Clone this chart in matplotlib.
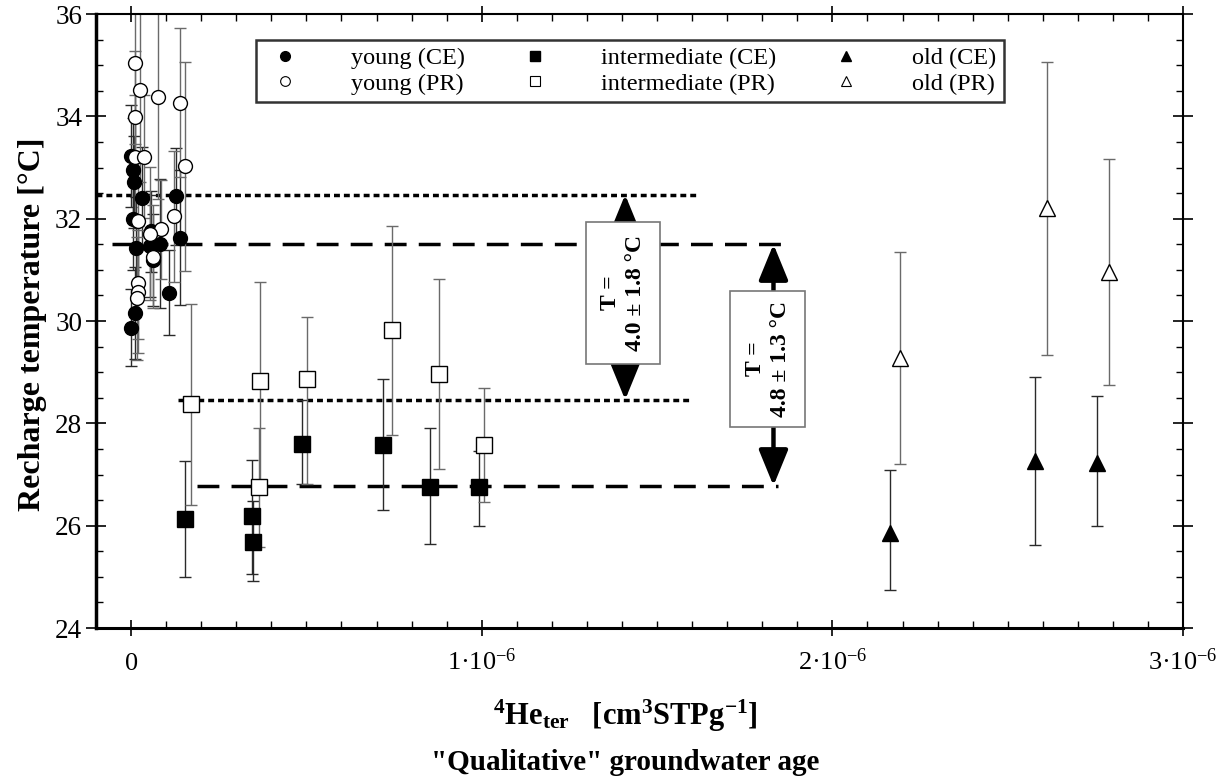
import matplotlib
matplotlib.use("Agg")
import matplotlib.pyplot as plt
from matplotlib.patches import Rectangle
from matplotlib.lines import Line2D
from matplotlib.ticker import MultipleLocator

plt.rcParams['font.family'] = ['Liberation Serif', 'DejaVu Serif']
plt.rcParams['mathtext.fontset'] = 'custom'
plt.rcParams['mathtext.rm'] = 'Liberation Serif'
plt.rcParams['mathtext.default'] = 'regular'

# ---------------- data ----------------
# young (CE)
young_ce_x = [0.001e-6, 0.004e-6, 0.008e-6, 0.031e-6, 0.129e-6, 0.004e-6, 0.058e-6, 0.054e-6,
              0.083e-6, 0.139e-6, 0.013e-6, 0.061e-6, 0.109e-6, 0.011e-6, 0.001e-6]
young_ce_t = [33.23, 32.96, 32.71, 32.41, 32.44, 31.99, 31.75, 31.47,
              31.51, 31.63, 31.42, 31.19, 30.55, 30.15, 29.87]
young_ce_err = [1.0, 1.0, 0.9, 1.0, 0.95, 1.0, 0.8, 1.0,
                1.26, 1.32, 1.0, 0.9, 0.83, 0.9, 0.75]
# young (PR)
young_pr_x = [0.011e-6, 0.025e-6, 0.078e-6, 0.140e-6, 0.012e-6, 0.011e-6, 0.037e-6, 0.154e-6,
              0.123e-6, 0.020e-6, 0.085e-6, 0.054e-6, 0.063e-6, 0.020e-6, 0.020e-6, 0.016e-6]
young_pr_t = [35.05, 34.51, 34.38, 34.27, 33.98, 33.21, 33.21, 33.02,
              32.05, 31.96, 31.79, 31.71, 31.26, 30.75, 30.57, 30.44]
young_pr_err = [1.6, 1.8, 2.0, 1.45, 1.3, 1.2, 1.2, 2.05,
                1.28, 1.2, 0.97, 1.3, 1.0, 1.1, 1.2, 1.2]
# intermediate (CE)
int_ce_x = [0.154e-6, 0.345e-6, 0.349e-6, 0.487e-6, 0.718e-6, 0.853e-6, 0.992e-6]
int_ce_t = [26.13, 26.18, 25.69, 27.60, 27.58, 26.76, 26.75]
int_ce_lo = [1.13, 1.12, 0.78, 0.78, 1.27, 1.12, 0.76]
int_ce_hi = [1.13, 1.10, 0.79, 0.86, 1.29, 1.15, 0.70]
# intermediate (PR)
int_pr_x = [0.171e-6, 0.368e-6, 0.366e-6, 0.503e-6, 0.744e-6, 0.877e-6, 1.007e-6]
int_pr_t = [28.38, 28.83, 26.75, 28.87, 29.82, 28.96, 27.58]
int_pr_lo = [1.98, 1.95, 1.16, 2.05, 2.05, 1.86, 1.11]
int_pr_hi = [1.95, 1.93, 1.15, 1.20, 2.04, 1.86, 1.12]
# old (CE)
old_ce_x = [2.163e-6, 2.578e-6, 2.755e-6]
old_ce_t = [25.86, 27.27, 27.23]
old_ce_lo = [1.12, 1.65, 1.24]
old_ce_hi = [1.23, 1.64, 1.30]
# old (PR)
old_pr_x = [2.192e-6, 2.613e-6, 2.789e-6]
old_pr_t = [29.27, 32.20, 30.96]
old_pr_err = [2.07, 2.87, 2.21]

# reference levels: (level, x_start, x_end)
dotted_levels = [(32.47, -0.1e-6, 1.61e-6), (28.46, 0.135e-6, 1.59e-6)]
dashed_levels = [(31.50, -0.055e-6, 1.855e-6), (26.78, 0.187e-6, 1.845e-6)]

# difference annotations
diff_labels = ['T =\n4.0 \u00b1 1.8 \u00b0C', 'T =\n4.8 \u00b1 1.3 \u00b0C']
diff_arrow_x = [1.409e-6, 1.832e-6]
diff_arrow_y = [(28.46, 32.47), (26.78, 31.50)]
diff_box_x = [(1.297e-6, 1.509e-6), (1.709e-6, 1.921e-6)]
diff_box_y = [(29.15, 31.94), (27.92, 30.59)]

x_ticks = [0, 1e-6, 2e-6, 3e-6]
x_ticklabels = ['0', '1\u00b710$^{-6}$', '2\u00b710$^{-6}$', '3\u00b710$^{-6}$']
y_ticks = [24, 26, 28, 30, 32, 34, 36]

# ---------------- figure ----------------
fig = plt.figure(figsize=(12.22, 7.78), dpi=100)
ax = fig.add_axes([0.0786, 0.1928, 0.8895, 0.7892])

eb_kw = dict(fmt='none', elinewidth=1.0, capsize=4, capthick=1.0, zorder=2)
dark = '#2a2a2a'
grey = '#6a6a6a'

ax.errorbar(young_ce_x, young_ce_t, yerr=young_ce_err, ecolor=dark, **eb_kw)
ax.errorbar(young_pr_x, young_pr_t, yerr=young_pr_err, ecolor=grey, **eb_kw)
ax.errorbar(int_ce_x, int_ce_t, yerr=[int_ce_lo, int_ce_hi], ecolor=dark, **eb_kw)
ax.errorbar(int_pr_x, int_pr_t, yerr=[int_pr_lo, int_pr_hi], ecolor=grey, **eb_kw)
ax.errorbar(old_ce_x, old_ce_t, yerr=[old_ce_lo, old_ce_hi], ecolor=dark, **eb_kw)
ax.errorbar(old_pr_x, old_pr_t, yerr=old_pr_err, ecolor=grey, **eb_kw)

ax.plot(young_ce_x, young_ce_t, 'o', ms=10, mfc='black', mec='black', mew=1, zorder=3)
ax.plot(young_pr_x, young_pr_t, 'o', ms=10, mfc='white', mec='black', mew=1, zorder=4)
ax.plot(int_ce_x, int_ce_t, 's', ms=11, mfc='black', mec='black', mew=1, zorder=3)
ax.plot(int_pr_x, int_pr_t, 's', ms=11, mfc='white', mec='black', mew=1, zorder=4)
ax.plot(old_ce_x, old_ce_t, '^', ms=11, mfc='black', mec='black', mew=1, zorder=3)
ax.plot(old_pr_x, old_pr_t, '^', ms=11, mfc='white', mec='black', mew=1, zorder=4)

for lvl, x0, x1 in dotted_levels:
    ax.plot([x0, x1], [lvl, lvl], color='black', lw=2.5, dashes=(1.7, 1.15), zorder=1.5)
for lvl, x0, x1 in dashed_levels:
    ax.plot([x0, x1], [lvl, lvl], color='black', lw=2.5, dashes=(6.3, 3.5), zorder=1.5)

for lab, ax_x, (ya, yb), (bx0, bx1), (by0, by1) in zip(diff_labels, diff_arrow_x, diff_arrow_y,
                                                        diff_box_x, diff_box_y):
    ax.annotate('', xy=(ax_x, yb), xytext=(ax_x, ya),
                arrowprops=dict(arrowstyle='<|-|>,head_length=1.1,head_width=0.45',
                                lw=3.2, color='black', shrinkA=0, shrinkB=0,
                                mutation_scale=20), zorder=5)
    ax.add_patch(Rectangle((bx0, by0), bx1 - bx0, by1 - by0, facecolor='white',
                           edgecolor='#777777', lw=1.2, zorder=6))
    ax.text((bx0 + bx1) / 2, (by0 + by1) / 2, lab, rotation=90, ha='center', va='center',
            multialignment='center', fontsize=17, fontweight='bold', zorder=7,
            linespacing=1.25)

ax.set_xlim(-0.1e-6, 3.0e-6)
ax.set_ylim(24, 36)
ax.set_xticks(x_ticks)
ax.set_xticklabels(x_ticklabels)
ax.set_yticks(y_ticks)
ax.xaxis.set_minor_locator(MultipleLocator(0.1e-6))
ax.yaxis.set_minor_locator(MultipleLocator(0.5))
ax.tick_params(axis='x', which='major', direction='inout', length=12, width=1.2,
               labelsize=19, pad=24, top=True)
ax.tick_params(axis='x', which='minor', direction='in', length=5, width=1, top=True)
ax.tick_params(axis='y', which='major', direction='inout', length=14, width=1.2,
               labelsize=19.5, pad=3, right=True)
ax.tick_params(axis='y', which='minor', direction='in', length=5, width=1, right=True)
for t in ax.get_xticklabels():
    t.set_va('baseline')

for side, w in [('left', 2.5), ('bottom', 2.2), ('top', 1.5), ('right', 1.5)]:
    ax.spines[side].set_linewidth(w)

# legend
handles = [
    Line2D([], [], ls='none', marker='o', ms=7, mfc='black', mec='black'),
    Line2D([], [], ls='none', marker='o', ms=7, mfc='white', mec='black', mew=0.8),
    Line2D([], [], ls='none', marker='s', ms=7, mfc='black', mec='black'),
    Line2D([], [], ls='none', marker='s', ms=7, mfc='white', mec='black', mew=0.8),
    Line2D([], [], ls='none', marker='^', ms=7, mfc='black', mec='black'),
    Line2D([], [], ls='none', marker='^', ms=7, mfc='white', mec='black', mew=0.8),
]
labels = ['young (CE)', 'young (PR)', 'intermediate (CE)', 'intermediate (PR)',
          'old (CE)', 'old (PR)']
leg = ax.legend(handles, labels, ncol=3, loc='upper left', bbox_to_anchor=(0.147, 0.958),
                fontsize=17.5, frameon=True, fancybox=False, edgecolor='black',
                borderpad=0.3, labelspacing=0.15, handlelength=1.8, handletextpad=1.8,
                columnspacing=2.0, borderaxespad=0)
leg.get_frame().set_linewidth(1.8)
leg.set_zorder(8)

fig.text(33 / 1222, 1 - 324 / 778, 'Recharge temperature [\u00b0C]', rotation=90,
         ha='center', va='center', fontsize=23, fontweight='bold')
fig.text(625 / 1222, 1 - 716 / 778,
         '$^{4}$He$_{ter}$   [cm$^{3}$STPg$^{-1}$]',
         ha='center', va='center', fontsize=22, fontweight='bold')
fig.text(625 / 1222, 1 - 763 / 778, '"Qualitative" groundwater age',
         ha='center', va='center', fontsize=21, fontweight='bold')

fig.savefig('out.png', dpi=100)
